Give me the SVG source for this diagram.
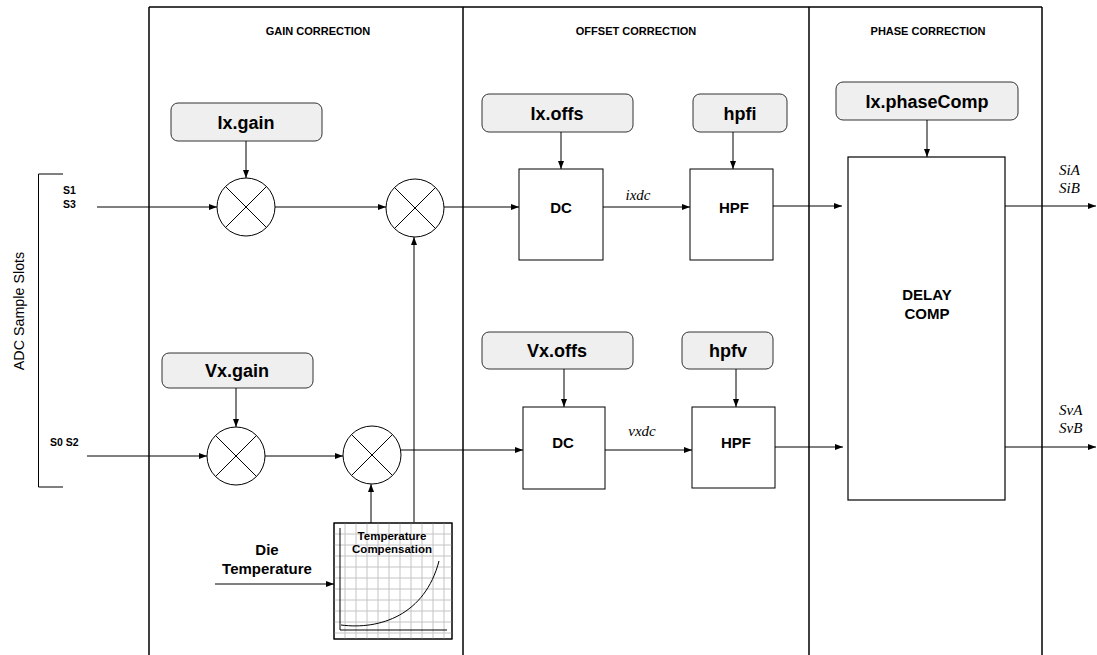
<svg xmlns="http://www.w3.org/2000/svg" width="1097" height="655" viewBox="0 0 1097 655">
<style>
.panel{fill:none;stroke:#000;stroke-width:1.5}
.param{fill:#efefef;stroke:#333;stroke-width:1}
.box{fill:#fff;stroke:#000;stroke-width:1}
.mul{fill:#fff;stroke:#000;stroke-width:1}
.conn{fill:none;stroke:#000;stroke-width:1}
.ptxt{font-family:"Liberation Sans",Arial,sans-serif;font-weight:bold;font-size:18px;text-anchor:middle;fill:#000}
.btxt{font-family:"Liberation Sans",Arial,sans-serif;font-weight:bold;font-size:15px;text-anchor:middle;fill:#000}
.title{font-family:"Liberation Sans",Arial,sans-serif;font-weight:bold;font-size:11px;text-anchor:middle;fill:#000}
.small{font-family:"Liberation Sans",Arial,sans-serif;font-weight:bold;font-size:10.5px;fill:#000}
.ital{font-family:"Liberation Serif","Times New Roman",serif;font-style:italic;font-size:15px;fill:#000}
.grid{stroke:#c4c4c4;stroke-width:1;fill:none}
</style>
<defs>
<marker id="ah" viewBox="0 0 8 6" refX="8" refY="3" markerWidth="8" markerHeight="6" markerUnits="userSpaceOnUse" orient="auto">
<path d="M0,0 L8,3 L0,6 z" fill="#000"/>
</marker>
</defs>
<rect width="1097" height="655" fill="#fff"/>

<g id="panels">
<line class="panel" x1="149" y1="7" x2="1042" y2="7"/>
<line class="panel" x1="149" y1="7" x2="149" y2="655"/>
<line class="panel" x1="463" y1="7" x2="463" y2="655"/>
<line class="panel" x1="809" y1="7" x2="809" y2="655"/>
<line class="panel" x1="1042" y1="7" x2="1042" y2="655"/>
<text class="title" x="318" y="35">GAIN CORRECTION</text>
<text class="title" x="636" y="35">OFFSET CORRECTION</text>
<text class="title" x="928" y="35">PHASE CORRECTION</text>
</g>

<g id="adc-slots">
<path d="M63,174 H38.5 V487 H63" fill="none" stroke="#000" stroke-width="1"/>
<text font-family="'Liberation Sans',Arial,sans-serif" font-size="14.3" text-anchor="middle" transform="translate(24,311) rotate(-90)">ADC Sample Slots</text>
<text class="small" x="63" y="194">S1</text>
<text class="small" x="63" y="208">S3</text>
<text class="small" x="50" y="446">S0 S2</text>
</g>

<g id="ixgain"><rect class="param" x="171" y="103" width="151" height="38" rx="7"/><text class="ptxt" x="246" y="129">Ix.gain</text></g>
<g id="vxgain"><rect class="param" x="162" y="353" width="151" height="35" rx="7"/><text class="ptxt" x="237" y="377">Vx.gain</text></g>

<g id="mul1"><circle class="mul" cx="246" cy="207" r="29"/><path class="conn" d="M225.5,186.5 L266.5,227.5 M266.5,186.5 L225.5,227.5"/></g>
<g id="mul2"><circle class="mul" cx="415" cy="208" r="29"/><path class="conn" d="M394.5,187.5 L435.5,228.5 M435.5,187.5 L394.5,228.5"/></g>
<g id="mul3"><circle class="mul" cx="236" cy="456" r="29"/><path class="conn" d="M215.5,435.5 L256.5,476.5 M256.5,435.5 L215.5,476.5"/></g>
<g id="mul4"><circle class="mul" cx="372" cy="455" r="29"/><path class="conn" d="M351.5,434.5 L392.5,475.5 M392.5,434.5 L351.5,475.5"/></g>

<g id="tempcomp">
<rect x="334" y="523" width="118" height="116" fill="#fff" stroke="#000" stroke-width="1"/>
<path class="grid" d="M345,523V639 M356,523V639 M367,523V639 M378,523V639 M389,523V639 M400,523V639 M411,523V639 M422,523V639 M433,523V639 M444,523V639 M334,534H452 M334,545H452 M334,556H452 M334,567H452 M334,578H452 M334,589H452 M334,600H452 M334,611H452 M334,622H452 M334,633H452"/>
<rect x="334" y="523" width="118" height="116" fill="none" stroke="#000" stroke-width="1"/>
<path d="M340,528 V630 H447" fill="none" stroke="#000" stroke-width="1"/>
<path d="M341,625 C380,630 425,615 439,561" fill="none" stroke="#000" stroke-width="1"/>
<text font-family="'Liberation Sans',Arial,sans-serif" font-weight="bold" font-size="11.5" text-anchor="middle" x="392" y="540">Temperature</text>
<text font-family="'Liberation Sans',Arial,sans-serif" font-weight="bold" font-size="11.5" text-anchor="middle" x="392" y="553">Compensation</text>
</g>
<g id="dietemp">
<text class="btxt" x="267" y="555">Die</text>
<text class="btxt" x="267" y="574">Temperature</text>
</g>

<g id="ixoffs"><rect class="param" x="482" y="94" width="151" height="38" rx="7"/><text class="ptxt" x="557" y="120">Ix.offs</text></g>
<g id="hpfi"><rect class="param" x="693" y="94" width="94" height="38" rx="7"/><text class="ptxt" x="740" y="120">hpfi</text></g>
<g id="dc1"><rect class="box" x="519" y="169" width="84" height="91"/><text class="btxt" x="561" y="213">DC</text></g>
<g id="hpf1"><rect class="box" x="690" y="169" width="83" height="91"/><text class="btxt" x="734" y="213">HPF</text></g>

<g id="vxoffs"><rect class="param" x="482" y="332" width="151" height="37" rx="7"/><text class="ptxt" x="557" y="357">Vx.offs</text></g>
<g id="hpfv"><rect class="param" x="682" y="332" width="91" height="37" rx="7"/><text class="ptxt" x="728" y="357">hpfv</text></g>
<g id="dc2"><rect class="box" x="523" y="407" width="82" height="82"/><text class="btxt" x="563" y="448">DC</text></g>
<g id="hpf2"><rect class="box" x="692" y="407" width="83" height="81"/><text class="btxt" x="736" y="448">HPF</text></g>

<g id="phasecomp"><rect class="param" x="836" y="82" width="182" height="38" rx="7"/><text class="ptxt" x="927" y="108">Ix.phaseComp</text></g>
<g id="delaycomp"><rect x="848" y="157" width="157" height="343" fill="#fff" stroke="#000" stroke-width="1.2"/>
<text class="btxt" x="927" y="300" font-size="14">DELAY</text><text class="btxt" x="927" y="319" font-size="14">COMP</text></g>

<g id="connectors">
<line class="conn" x1="97" y1="207" x2="217" y2="207" marker-end="url(#ah)"/>
<line class="conn" x1="246" y1="141" x2="246" y2="178" marker-end="url(#ah)"/>
<line class="conn" x1="275" y1="207" x2="386" y2="207" marker-end="url(#ah)"/>
<line class="conn" x1="444" y1="207" x2="519" y2="207" marker-end="url(#ah)"/>
<line class="conn" x1="414" y1="522" x2="414" y2="237" marker-end="url(#ah)"/>
<line class="conn" x1="603" y1="207" x2="690" y2="207" marker-end="url(#ah)"/>
<line class="conn" x1="561" y1="132" x2="561" y2="169" marker-end="url(#ah)"/>
<line class="conn" x1="733" y1="132" x2="733" y2="169" marker-end="url(#ah)"/>
<line class="conn" x1="773" y1="206" x2="842" y2="206" marker-end="url(#ah)"/>
<line class="conn" x1="927" y1="120" x2="927" y2="157" marker-end="url(#ah)"/>
<line class="conn" x1="1005" y1="206" x2="1096" y2="206" marker-end="url(#ah)"/>
<line class="conn" x1="87" y1="456" x2="207" y2="456" marker-end="url(#ah)"/>
<line class="conn" x1="236" y1="388" x2="236" y2="427" marker-end="url(#ah)"/>
<line class="conn" x1="265" y1="456" x2="343" y2="456" marker-end="url(#ah)"/>
<line class="conn" x1="400" y1="450" x2="523" y2="450" marker-end="url(#ah)"/>
<line class="conn" x1="371" y1="523" x2="371" y2="484" marker-end="url(#ah)"/>
<line class="conn" x1="215" y1="584" x2="334" y2="584" marker-end="url(#ah)"/>
<line class="conn" x1="564" y1="369" x2="564" y2="407" marker-end="url(#ah)"/>
<line class="conn" x1="736" y1="369" x2="736" y2="407" marker-end="url(#ah)"/>
<line class="conn" x1="605" y1="450" x2="692" y2="450" marker-end="url(#ah)"/>
<line class="conn" x1="775" y1="447" x2="843" y2="447" marker-end="url(#ah)"/>
<line class="conn" x1="1005" y1="447" x2="1096" y2="447" marker-end="url(#ah)"/>
<text class="ital" x="638" y="200" text-anchor="middle" font-size="13">ixdc</text>
<text class="ital" x="642" y="436" text-anchor="middle" font-size="13">vxdc</text>
<text class="ital" x="1059" y="175">SiA</text>
<text class="ital" x="1059" y="193">SiB</text>
<text class="ital" x="1059" y="415">SvA</text>
<text class="ital" x="1059" y="433">SvB</text>
</g>
</svg>
